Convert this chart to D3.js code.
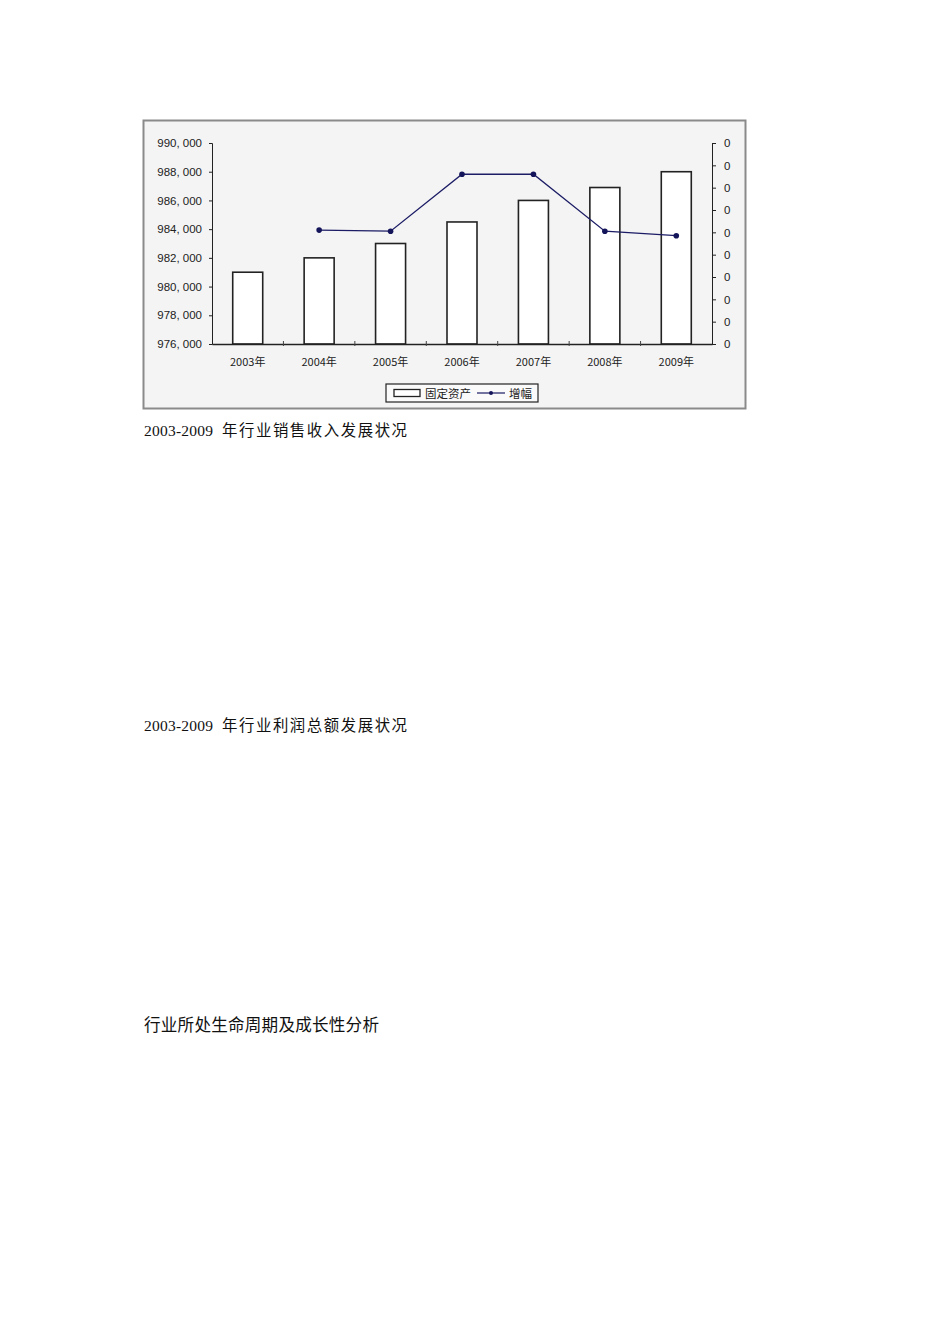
<!DOCTYPE html>
<html><head><meta charset="utf-8">
<script src="https://cdn.jsdelivr.net/npm/d3@7"></script>
<style>body{margin:0;background:#fff;} svg{display:block;}</style>
</head><body>
<script>
const years = ["2003年","2004年","2005年","2006年","2007年","2008年","2009年"];
const assets = [981000, 982000, 983000, 984500, 986000, 986900, 988000];
const growth = [null, 0.051, 0.0505, 0.076, 0.076, 0.0505, 0.0485];
const leftTicks = [976000, 978000, 980000, 982000, 984000, 986000, 988000, 990000];
const rightTicks = [0, 0.01, 0.02, 0.03, 0.04, 0.05, 0.06, 0.07, 0.08, 0.09];
const captionYears = ["2003-2009", "2003-2009", ""];
const captionTexts = ["年行业销售收入发展状况", "年行业利润总额发展状况", "行业所处生命周期及成长性分析"];
const legendLabels = ["固定资产", "增幅"];

const svg = d3.select("body").append("svg").attr("width", 950).attr("height", 1344);
const cjk = "'Noto Sans CJK SC', sans-serif";
const lat = "'Liberation Sans', Arial, sans-serif";

// frame
svg.append("rect").attr("x", 143.5).attr("y", 120.5).attr("width", 602).attr("height", 288)
  .attr("fill", "#f4f4f4").attr("stroke", "#8a8a8a").attr("stroke-width", 2);

const L = 212, R = 712, T = 143, B = 344;
const xb = d3.scaleBand().domain(years).range([L, R]);
const y = d3.scaleLinear().domain([976000, 990000]).range([B, T]);
const y2 = d3.scaleLinear().domain([0, 0.09]).range([B, T]);

// bars
svg.append("g").selectAll("rect").data(assets).join("rect")
  .attr("x", (d, i) => xb(years[i]) + xb.bandwidth() / 2 - 15)
  .attr("width", 30)
  .attr("y", d => y(d)).attr("height", d => B - y(d))
  .attr("fill", "#fff").attr("stroke", "#222").attr("stroke-width", 1.6);

// left axis
const ax = svg.append("g").attr("transform", `translate(${L},0)`)
  .call(d3.axisLeft(y).tickValues(leftTicks).tickFormat(d3.format(",")).tickSize(3).tickPadding(7));
ax.selectAll("text").attr("font-family", lat).attr("font-size", 11.5).attr("fill", "#222")
  .text(d => d3.format(",")(d).replace(",", ", "));
ax.selectAll("path,line").attr("stroke", "#222");

// right axis
const ar = svg.append("g").attr("transform", `translate(${R},0)`)
  .call(d3.axisRight(y2).tickValues(rightTicks).tickFormat(d3.format(".0f")).tickSize(4).tickPadding(8));
ar.selectAll("text").attr("font-family", lat).attr("font-size", 11.5).attr("fill", "#222");
ar.selectAll("path,line").attr("stroke", "#222");

// bottom axis
const ab = svg.append("g").attr("transform", `translate(0,${B})`)
  .call(d3.axisBottom(xb).tickSize(0).tickPadding(14));
ab.select("path").attr("stroke", "#222").attr("stroke-width", 1.3);
ab.selectAll("text").attr("font-family", cjk).attr("font-size", 11).attr("fill", "#222");
ab.append("g").selectAll("line").data(years.slice(1)).join("line")
  .attr("x1", d => xb(d)).attr("x2", d => xb(d)).attr("y1", -3).attr("y2", 2)
  .attr("stroke", "#444");

// growth line
const pts = growth.map((g, i) => ({g, i})).filter(d => d.g !== null);
const line = d3.line().x(d => xb(years[d.i]) + xb.bandwidth() / 2).y(d => y2(d.g));
svg.append("path").datum(pts).attr("d", line).attr("fill", "none")
  .attr("stroke", "#1c1c66").attr("stroke-width", 1.3);
svg.append("g").selectAll("circle").data(pts).join("circle")
  .attr("cx", d => xb(years[d.i]) + xb.bandwidth() / 2).attr("cy", d => y2(d.g)).attr("r", 2.8)
  .attr("fill", "#14145a");

// legend
const lg = svg.append("g").attr("transform", "translate(386,384)");
lg.append("rect").attr("width", 152).attr("height", 18).attr("fill", "#fafafa").attr("stroke", "#222").attr("stroke-width", 1.2);
lg.append("rect").attr("x", 8).attr("y", 5.5).attr("width", 26).attr("height", 7).attr("fill", "#fff").attr("stroke", "#222").attr("stroke-width", 1.3);
lg.append("text").attr("x", 39).attr("y", 13.5).text(legendLabels[0]).attr("font-family", cjk).attr("font-size", 11.5).attr("fill", "#222");
lg.append("line").attr("x1", 91).attr("x2", 119).attr("y1", 9).attr("y2", 9).attr("stroke", "#1c1c66").attr("stroke-width", 1.2);
lg.append("circle").attr("cx", 105).attr("cy", 9).attr("r", 2).attr("fill", "#14145a");
lg.append("text").attr("x", 123).attr("y", 13.5).text(legendLabels[1]).attr("font-family", cjk).attr("font-size", 11.5).attr("fill", "#222");

// captions
const capY = [436, 731, 1031];
const capX = [222, 222, 144];
const capLen = [185, 185, 235];
const cg = svg.append("g");
cg.selectAll("text.yr").data(captionYears).join("text").attr("class", "yr")
  .attr("x", 144).attr("y", (d, i) => capY[i]).text(d => d)
  .attr("font-family", "'Liberation Serif', serif").attr("font-size", 15.5)
  .attr("textLength", d => d ? 69 : null).attr("lengthAdjust", "spacing").attr("fill", "#111");
cg.selectAll("text.tx").data(captionTexts).join("text").attr("class", "tx")
  .attr("x", (d, i) => capX[i]).attr("y", (d, i) => capY[i]).text(d => d)
  .attr("font-family", cjk).attr("font-size", (d, i) => i < 2 ? 15.4 : 16.6)
  .attr("textLength", (d, i) => capLen[i]).attr("lengthAdjust", "spacing").attr("fill", "#111");
</script>
</body></html>
